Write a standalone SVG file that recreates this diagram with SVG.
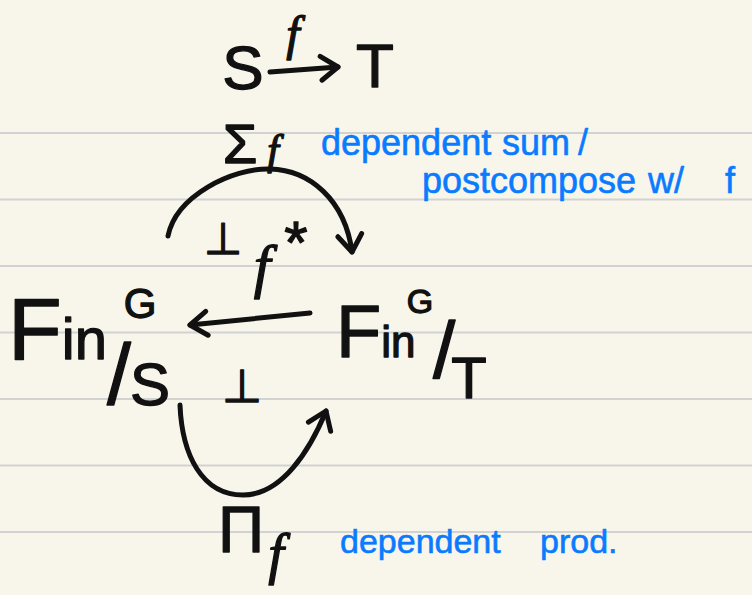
<svg xmlns="http://www.w3.org/2000/svg" width="752" height="595" viewBox="0 0 752 595">
<defs>
<style>
.k{fill:#111;stroke:#111;stroke-width:1.3;stroke-linejoin:round;font-family:"Liberation Sans",Arial,sans-serif}
.m{font-family:"Liberation Serif","Times New Roman",serif;font-style:italic}
.sym{font-family:"DejaVu Sans",sans-serif}
.b{fill:#0a7bff;stroke:#0a7bff;stroke-width:0.6;stroke-linejoin:round;font-family:"Liberation Sans",Arial,sans-serif}
.c{fill:none;stroke:#111;stroke-width:5;stroke-linecap:round;stroke-linejoin:round}
.rule{stroke:#d2d2d2;stroke-width:2}
</style>
<marker id="ah" markerUnits="userSpaceOnUse" viewBox="-24 -16 30 32" markerWidth="30" markerHeight="32" refX="0" refY="0" orient="auto">
<path d="M-17,-12 L0,0 L-17,12" fill="none" stroke="#111" stroke-width="5" stroke-linecap="round" stroke-linejoin="round"/>
</marker>
</defs>
<rect width="752" height="595" fill="#f8f6eb"/>
<g id="ruling">
<line class="rule" x1="0" y1="133" x2="752" y2="133"/>
<line class="rule" x1="0" y1="199.5" x2="752" y2="199.5"/>
<line class="rule" x1="0" y1="266" x2="752" y2="266"/>
<line class="rule" x1="0" y1="332.5" x2="752" y2="332.5"/>
<line class="rule" x1="0" y1="399" x2="752" y2="399"/>
<line class="rule" x1="0" y1="465.5" x2="752" y2="465.5"/>
<line class="rule" x1="0" y1="532" x2="752" y2="532"/>
</g>
<g id="connectors">
<path class="c" d="M270,72 L338,67" marker-end="url(#ah)"/>
<path class="c" d="M168,236 C176,196 232,168 270,169 C310,170 345,200 352,252" marker-end="url(#ah)"/>
<path class="c" d="M310,313 L190,325" marker-end="url(#ah)"/>
<path class="c" d="M180,405 C182,455 202,495 243,495 C282,495 310,450 326,411" marker-end="url(#ah)"/>
</g>
<g id="node-S">
<text class="k" x="243" y="89" font-size="62" text-anchor="middle">S</text>
</g>
<g id="node-T">
<text class="k" x="375" y="87" font-size="62" text-anchor="middle">T</text>
</g>
<g id="label-f">
<text class="k m" x="293" y="50" font-size="48" text-anchor="middle">f</text>
</g>
<g id="node-FinS">
<text class="k" x="8" y="359"><tspan font-size="88">F</tspan><tspan font-size="58">in</tspan></text>
<text class="k" x="140" y="318" font-size="42" text-anchor="middle">G</text>
<text class="k" x="119" y="404" font-size="86" text-anchor="middle">/</text>
<text class="k" x="150" y="405" font-size="60" text-anchor="middle">S</text>
</g>
<g id="node-FinT">
<text class="k" x="336" y="357"><tspan font-size="74">F</tspan><tspan font-size="44">in</tspan></text>
<text class="k" x="420" y="313" font-size="34" text-anchor="middle">G</text>
<text class="k" x="444" y="378" font-size="80" text-anchor="middle">/</text>
<text class="k" x="469" y="398" font-size="58" text-anchor="middle">T</text>
</g>
<g id="label-sigma">
<text class="k" x="240" y="163" font-size="56" text-anchor="middle">Σ</text>
<text class="k m" x="273" y="164" font-size="42" text-anchor="middle">f</text>
</g>
<g id="label-fstar">
<text class="k m" x="262" y="286" font-size="60" text-anchor="middle">f</text>
<text class="k" x="296" y="263" font-size="60" text-anchor="middle">*</text>
</g>
<g id="label-pi">
<text class="k" x="241" y="552" font-size="64" text-anchor="middle">Π</text>
<text class="k m" x="276" y="573" font-size="56" text-anchor="middle">f</text>
</g>
<g id="adjunctions">
<text class="k sym" x="223" y="254" font-size="44" text-anchor="middle">⊥</text>
<text class="k sym" x="242" y="402" font-size="46" text-anchor="middle">⊥</text>
</g>
<g id="notes">
<text class="b" x="321" y="155" font-size="36">dependent</text>
<text class="b" x="502" y="155" font-size="36">sum</text>
<text class="b" x="578" y="155" font-size="36">/</text>
<text class="b" x="422" y="193" font-size="36">postcompose</text>
<text class="b" x="648" y="193" font-size="36">w/</text>
<text class="b" x="725" y="193" font-size="36">f</text>
<text class="b" x="340" y="553" font-size="34">dependent</text>
<text class="b" x="540" y="553" font-size="34">prod.</text>
</g>
</svg>
